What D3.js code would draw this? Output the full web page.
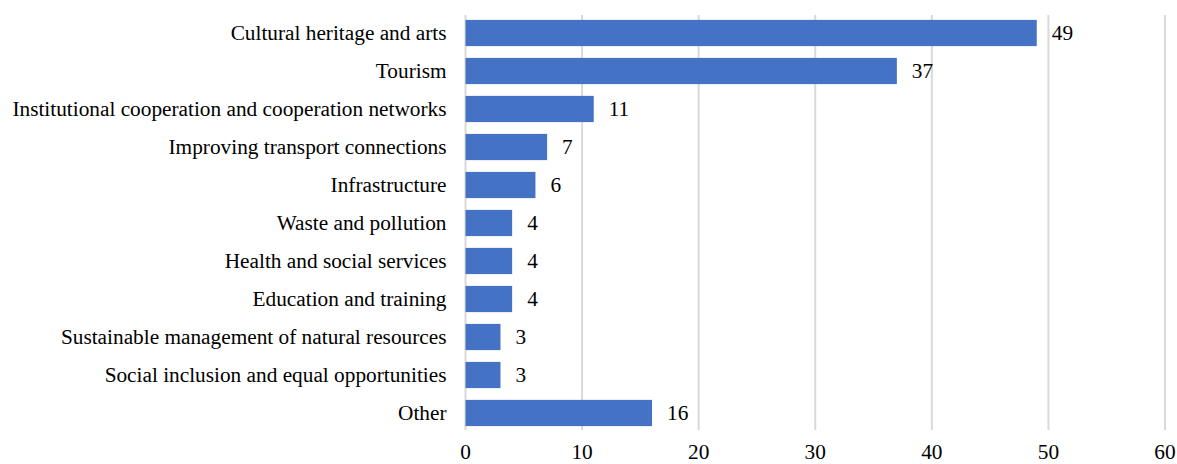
<!DOCTYPE html>
<html>
<head>
<meta charset="utf-8">
<script src="https://cdn.jsdelivr.net/npm/d3@7.9.0/dist/d3.min.js"></script>
<style>
  body { margin: 0; background: #fff; }
</style>
</head>
<body>
<svg id="chart" width="1177" height="464"></svg>
<script>
const categories = [
  'Cultural heritage and arts',
  'Tourism',
  'Institutional cooperation and cooperation networks',
  'Improving transport connections',
  'Infrastructure',
  'Waste and pollution',
  'Health and social services',
  'Education and training',
  'Sustainable management of natural resources',
  'Social inclusion and equal opportunities',
  'Other'
];
const values = [49, 37, 11, 7, 6, 4, 4, 4, 3, 3, 16];
const ticks = [0, 10, 20, 30, 40, 50, 60];

const font = "'Liberation Serif', 'Times New Roman', 'DejaVu Serif', serif";
const fs = 21.3;

const svg = d3.select('#chart')
  .attr('font-family', font)
  .attr('fill', '#000');
const margin = { top: 14, right: 12, bottom: 32, left: 465.5 };
const width = 1177 - margin.left - margin.right;
const height = 464 - margin.top - margin.bottom;

const x = d3.scaleLinear().domain([0, 60]).range([0, width]);
const y = d3.scaleBand().domain(categories).range([0, height]).paddingInner(0.31).paddingOuter(0.155);

const g = svg.append('g').attr('transform', `translate(${margin.left},${margin.top})`);

// gridlines
g.selectAll('line.grid')
  .data(ticks)
  .join('line')
  .attr('class', 'grid')
  .attr('x1', d => x(d)).attr('x2', d => x(d))
  .attr('y1', 1).attr('y2', height - 2)
  .attr('stroke', '#d9d9d9')
  .attr('stroke-width', 2);

// tick labels
g.selectAll('text.tick')
  .data(ticks)
  .join('text')
  .attr('class', 'tick')
  .attr('font-family', font)
  .attr('x', d => x(d))
  .attr('y', height + 27)
  .attr('text-anchor', 'middle')
  .attr('font-size', fs)
  .text(d => d);

// bars
g.selectAll('rect.bar')
  .data(values)
  .join('rect')
  .attr('class', 'bar')
  .attr('x', x(0))
  .attr('y', (d, i) => y(categories[i]))
  .attr('width', d => x(d))
  .attr('height', y.bandwidth())
  .attr('fill', '#4472c4');

// value labels
g.selectAll('text.val')
  .data(values)
  .join('text')
  .attr('class', 'val')
  .attr('font-family', font)
  .attr('x', d => x(d) + 15)
  .attr('y', (d, i) => y(categories[i]) + y.bandwidth() / 2)
  .attr('dy', '0.35em')
  .attr('font-size', fs)
  .text(d => d);

// category labels
g.selectAll('text.cat')
  .data(categories)
  .join('text')
  .attr('class', 'cat')
  .attr('font-family', font)
  .attr('x', -19)
  .attr('y', d => y(d) + y.bandwidth() / 2)
  .attr('dy', '0.35em')
  .attr('text-anchor', 'end')
  .attr('font-size', fs)
  .text(d => d);
</script>
</body>
</html>
